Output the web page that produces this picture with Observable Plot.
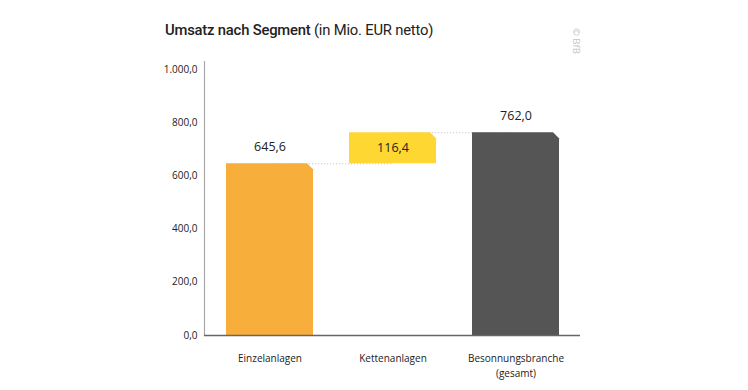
<!DOCTYPE html>
<html><head><meta charset="utf-8">
<script src="https://cdn.jsdelivr.net/npm/d3@7"></script>
<script src="https://cdn.jsdelivr.net/npm/@observablehq/plot@0.6"></script>
<style>
body{margin:0;background:#fff;}
#wrap{position:relative;width:748px;height:390px;overflow:hidden}
#title{position:absolute;left:165px;top:21px;font-family:Roboto,sans-serif;font-size:14.8px;color:#222;white-space:nowrap;letter-spacing:-0.2px}
#title b{font-weight:500}
#copy{position:absolute;left:583px;top:28px;transform-origin:0 0;transform:rotate(90deg);white-space:nowrap;font-family:"Open Sans",sans-serif;font-size:9.5px;line-height:13px;color:#c4c4c4}
#chart{position:absolute;left:0;top:0}
</style></head>
<body>
<div id="wrap">
  <div id="chart"></div>
  <div id="title"><b>Umsatz nach Segment</b> (in Mio. EUR netto)</div>
  <div id="copy">© BfB</div>
</div>
<script>
const categories = ["Einzelanlagen", "Kettenanlagen", "Besonnungsbranche\n(gesamt)"];
const values = [645.6, 116.4, 762.0];
const kinds = ["step", "step", "total"];
const colors = ["#F7AE3B", "#FFD733", "#555555"];
const yTicks = [0, 200, 400, 600, 800, 1000];

const de = d3.formatLocale({decimal: ",", thousands: ".", grouping: [3], currency: ["", " €"]});
const fmt = de.format(",.1f");

let run = 0;
const rows = categories.map((c, i) => {
  let y1, y2;
  if (kinds[i] === "total") { y1 = 0; y2 = values[i]; run = values[i]; }
  else { y1 = run; y2 = run + values[i]; run = y2; }
  return {cat: c, y1, y2, value: values[i], color: colors[i], kind: kinds[i], i};
});
const connectors = rows.slice(0, -1).map((r, i) => ({from: r.cat, to: rows[i + 1].cat, v: r.y2}));

const svg = Plot.plot({
  width: 748,
  height: 390,
  marginLeft: 204,
  marginRight: 168,
  marginTop: 61,
  marginBottom: 55,
  style: {fontFamily: "'Open Sans', sans-serif", fontSize: "10px", color: "#222", background: "transparent"},
  x: {domain: categories, paddingInner: 0.293, paddingOuter: 0.17, label: null},
  y: {domain: [0, 1030], label: null},
  marks: [
    Plot.frame({anchor: "left", stroke: "#a8a8a8", strokeWidth: 1.2}),
    Plot.link(connectors, {x1: "from", x2: "to", y1: "v", y2: "v", stroke: "#c8c8c8", strokeDasharray: "1.2,1.8"}),
    Plot.barY(rows, {x: "cat", y1: "y1", y2: "y2", fill: d => d.color}),
    Plot.ruleY([0], {stroke: "#666", strokeWidth: 1.3}),
    Plot.axisY({ticks: yTicks, tickFormat: fmt, tickSize: 0, tickPadding: 7, fontSize: 10, fill: "#222"}),
    Plot.axisX({tickSize: 0, tickPadding: 15, fontSize: 10, lineHeight: 1.55, fill: "#222"}),
    Plot.text(rows.filter(d => d.kind === "step" && d.i > 0), {x: "cat", y: d => (d.y1 + d.y2) / 2, text: d => fmt(d.value), fontSize: 12.5, fill: "#222"}),
    Plot.text(rows.filter(d => !(d.kind === "step" && d.i > 0)), {x: "cat", y: "y2", dy: -17, text: d => fmt(d.value), fontSize: 12.5, fill: "#222"})
  ]
});

// cut the top-right corner of each bar
const ns = "http://www.w3.org/2000/svg";
svg.querySelectorAll('g[aria-label="bar"] rect').forEach(r => {
  const x = +r.getAttribute("x"), y = +r.getAttribute("y"), w = +r.getAttribute("width"), h = +r.getAttribute("height");
  const c = 6;
  const p = document.createElementNS(ns, "path");
  p.setAttribute("d", `M${x},${y + h}V${y}H${x + w - c}L${x + w},${y + c}V${y + h}Z`);
  for (const a of r.attributes) if (!["x", "y", "width", "height"].includes(a.name)) p.setAttribute(a.name, a.value);
  r.replaceWith(p);
});
document.getElementById("chart").appendChild(svg);
</script>
</body></html>
